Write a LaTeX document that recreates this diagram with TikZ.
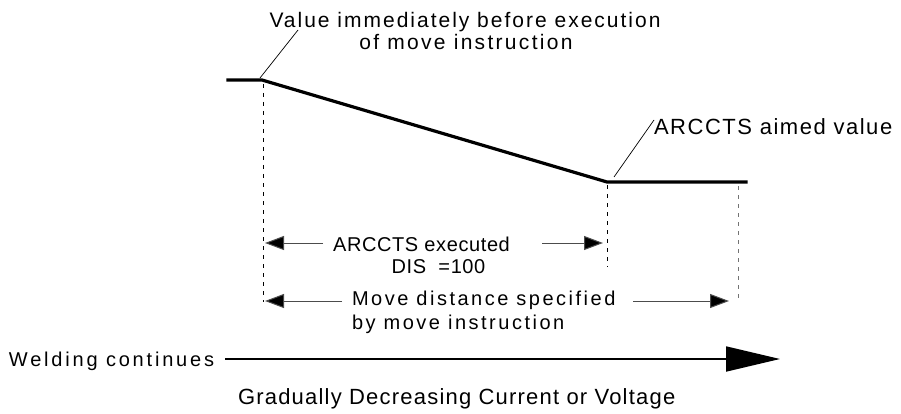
\documentclass[tikz,border=0pt]{standalone}
\usepackage{fontspec}
\setmainfont{Liberation Sans}
\usetikzlibrary{arrows.meta}
\newcommand{\lsfont}[2]{\fontsize{#1pt}{#1pt}\selectfont\addfontfeature{LetterSpace=#2}}
\tikzset{
  lbl/.style={inner sep=0pt, outer sep=0pt, text=black},
  curve/.style={line width=3.2pt, line join=miter, line cap=rect},
  leader/.style={line width=0.7pt},
  guide/.style={line width=0.7pt, dash pattern=on 4pt off 5pt},
  dimarrow/.style={line width=1pt, draw=black!70, -{Triangle[length=19pt,width=14pt,fill=black]}},
  bigarrow/.style={line width=1.8pt, -{Triangle[length=54pt,width=25pt]}},
}
\begin{document}
\begin{tikzpicture}[x=1pt,y=-1pt]
\useasboundingbox (0,0) rectangle (901,414);
% curve points
\coordinate (p0) at (228,80);
\coordinate (p1) at (262,80);
\coordinate (p2) at (607,182);
\coordinate (p3) at (746,182);
\draw[curve] (p0) -- (p1) -- (p2) -- (p3);
% texts
\node[lbl, anchor=base] (t1) at (465,28) {\lsfont{21}{9.5}Value immediately before execution};
\node[lbl, anchor=base] (t2) at (466,50) {\lsfont{21}{11}of move instruction};
\node[lbl, anchor=base west] (t3) at (654,135) {\lsfont{22}{7}ARCCTS aimed value};
\node[lbl, anchor=base] (t4) at (421.5,251) {\lsfont{20}{3}ARCCTS executed};
\node[lbl, anchor=base] (t5) at (438.5,273) {\lsfont{20}{3}DIS\ \ =100};
\node[lbl, anchor=base west] (t6) at (352,305) {\lsfont{20}{12.5}Move distance specified};
\node[lbl, anchor=base west] (t7) at (352,329) {\lsfont{20}{12.5}by move instruction};
\node[lbl, anchor=base west] (t8) at (9,366) {\lsfont{20}{14}Welding continues};
\node[lbl, anchor=base west] (t9) at (238,404) {\lsfont{22}{5.5}Gradually Decreasing Current or Voltage};
% leaders
\coordinate (l1a) at (260,78); \coordinate (l1b) at (298,30);
\coordinate (l2a) at (614,177); \coordinate (l2b) at (654,120);
\draw[leader] (l1a) -- (l1b);
\draw[leader] (l2a) -- (l2b);
% guide lines
\coordinate (g1a) at (263,84); \coordinate (g1b) at (263,302);
\coordinate (g2a) at (607,185); \coordinate (g2b) at (607,267);
\coordinate (g3a) at (738,186); \coordinate (g3b) at (738,302);
\draw[guide] (g1a) -- (g1b);
\draw[guide] (g2a) -- (g2b);
\draw[guide, draw=black!55, line width=1pt] (g3a) -- (g3b);
% dimension arrows
\coordinate (a1l) at (265,243); \coordinate (a1ls) at (323,243);
\coordinate (a1r) at (603,243); \coordinate (a1rs) at (542,243);
\coordinate (a2l) at (265,301); \coordinate (a2ls) at (342,301);
\coordinate (a2r) at (729,301); \coordinate (a2rs) at (633,301);
\draw[dimarrow] (a1ls) -- (a1l);
\draw[dimarrow] (a1rs) -- (a1r);
\draw[dimarrow] (a2ls) -- (a2l);
\draw[dimarrow] (a2rs) -- (a2r);
% welding arrow
\coordinate (w0) at (225,359); \coordinate (w1) at (780,359);
\draw[bigarrow] (w0) -- (w1);
\end{tikzpicture}
\end{document}
